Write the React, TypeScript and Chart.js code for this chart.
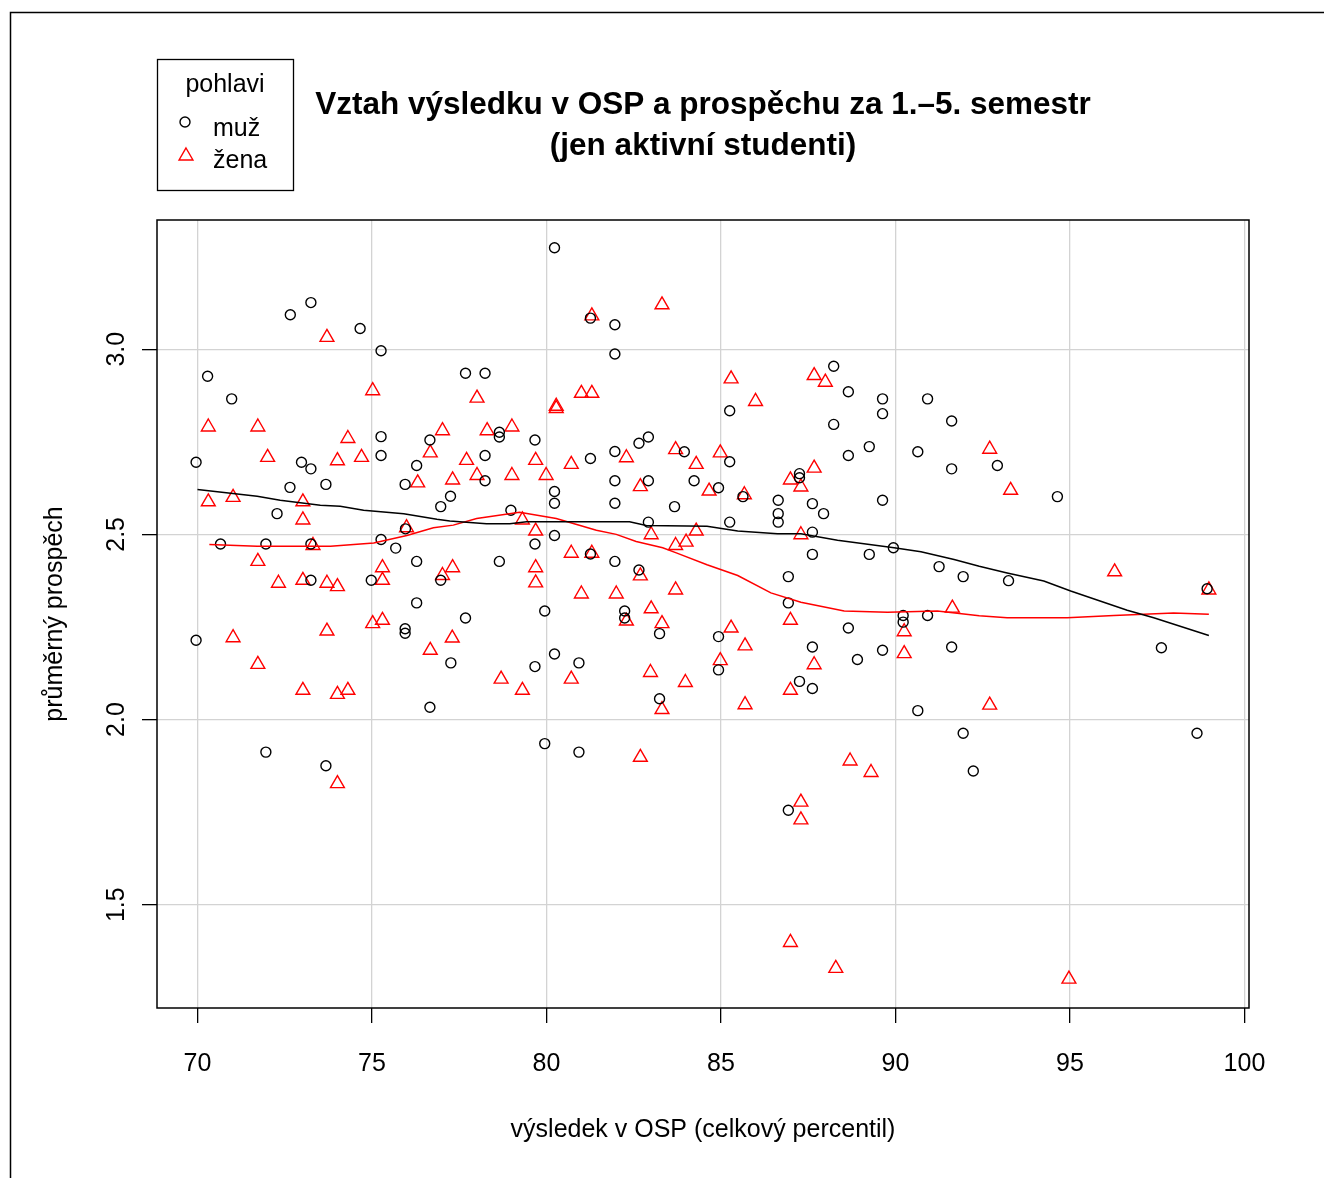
import React, { useEffect, useRef } from 'react';
import { Chart, registerables } from 'chart.js';

Chart.register(...registerables);

const X_TICKS = [70, 75, 80, 85, 90, 95, 100];
const Y_TICKS = [1.5, 2.0, 2.5, 3.0];

const TITLE_LINES = ['Vztah výsledku v OSP a prospěchu za 1.–5. semestr', '(jen aktivní studenti)'];
const X_TITLE = 'výsledek v OSP (celkový percentil)';
const Y_TITLE = 'průměrný prospěch';
const LEGEND_TITLE = 'pohlavi';
const GROUPS = ['muž', 'žena'];

const MALE_X = [
  72.66, 73.25, 74.66, 75.26, 70.29, 70.98, 75.26, 75.26, 69.96, 72.98, 73.25, 76.66, 76.28, 72.65, 73.68, 75.95,
  72.28, 75.96, 70.66, 71.96, 73.25, 75.26, 75.68, 76.28, 73.25, 74.98, 76.28, 69.96, 75.95, 75.95, 76.66, 71.96,
  73.68, 80.23, 81.26, 81.96, 81.96, 77.68, 78.24, 78.65, 78.65, 79.67, 78.24, 81.26, 81.96, 82.65, 82.92, 83.95,
  78.24, 81.96, 82.92, 84.23, 77.25, 76.97, 80.23, 80.23, 81.96, 83.67, 78.98, 82.92, 80.23, 79.67, 78.65, 81.26,
  81.96, 82.65, 76.97, 79.95, 82.24, 77.68, 82.24, 83.24, 77.26, 79.67, 80.23, 80.93, 83.24, 79.95, 80.93, 88.23,
  88.65, 89.63, 89.63, 90.92, 91.61, 85.25, 88.23, 89.25, 88.65, 90.64, 91.61, 85.25, 87.25, 87.25, 84.93, 85.63,
  86.64, 86.64, 86.64, 87.62, 87.94, 89.63, 85.25, 87.62, 87.62, 89.25, 89.94, 91.25, 91.94, 86.93, 86.93, 90.22,
  90.22, 90.92, 84.93, 84.93, 88.65, 87.62, 89.63, 88.91, 91.61, 87.25, 87.62, 90.64, 91.94, 92.23, 86.93, 92.92,
  94.64, 93.24, 98.93, 97.62, 98.64,
];
const MALE_Y = [
  3.093, 3.126, 3.056, 2.996, 2.927, 2.866, 2.764, 2.713, 2.695, 2.695, 2.677, 2.755, 2.686, 2.627, 2.635, 2.635,
  2.556, 2.515, 2.474, 2.474, 2.474, 2.486, 2.463, 2.427, 2.376, 2.376, 2.315, 2.214, 2.245, 2.233, 2.033, 1.912,
  1.875, 3.274, 3.084, 3.066, 2.987, 2.935, 2.935, 2.776, 2.763, 2.755, 2.713, 2.705, 2.724, 2.746, 2.763, 2.723,
  2.645, 2.645, 2.645, 2.645, 2.603, 2.575, 2.616, 2.584, 2.584, 2.575, 2.565, 2.533, 2.497, 2.474, 2.427, 2.447,
  2.427, 2.404, 2.376, 2.293, 2.293, 2.274, 2.274, 2.232, 2.153, 2.143, 2.177, 2.153, 2.056, 1.935, 1.912, 2.954,
  2.885, 2.866, 2.826, 2.866, 2.806, 2.834, 2.797, 2.737, 2.713, 2.723, 2.677, 2.696, 2.664, 2.653, 2.626, 2.602,
  2.592, 2.556, 2.533, 2.583, 2.556, 2.592, 2.533, 2.506, 2.446, 2.446, 2.464, 2.413, 2.386, 2.386, 2.315, 2.281,
  2.263, 2.281, 2.224, 2.134, 2.247, 2.196, 2.187, 2.162, 2.196, 2.103, 2.084, 2.024, 1.963, 1.861, 1.755, 2.686,
  2.602, 2.375, 2.353, 2.194, 1.963,
];

const FEMALE_X = [
  73.71, 75.02, 70.31, 71.73, 74.31, 72.01, 74.01, 74.7, 76.67, 76.31, 70.31, 71.02, 73.02, 73.02, 75.99, 73.31,
  71.73, 75.3, 75.3, 72.32, 73.02, 73.71, 74.01, 71.02, 73.71, 75.02, 75.3, 76.67, 71.73, 73.02, 74.01, 74.31,
  74.01, 81.3, 83.31, 78.01, 81.0, 81.3, 80.28, 80.28, 77.02, 78.3, 79.01, 77.71, 79.69, 80.71, 82.29, 83.7,
  84.29, 77.31, 78.01, 79.01, 79.99, 82.69, 84.66, 79.31, 79.69, 83.0, 84.29, 83.7, 84.0, 80.71, 81.3, 77.02,
  77.31, 79.69, 79.69, 82.69, 81.0, 82.0, 83.7, 83.0, 77.3, 82.29, 83.31, 82.98, 83.98, 78.7, 79.31, 80.71,
  83.31, 82.69, 85.29, 85.99, 87.67, 87.99, 84.98, 87.67, 86.99, 87.29, 85.67, 87.29, 85.29, 85.69, 84.98, 86.99,
  87.67, 86.99, 85.69, 90.25, 90.25, 91.63, 88.7, 89.3, 87.29, 87.29, 86.99, 88.29, 92.7, 92.7, 93.3, 96.28,
  98.98, 94.97,
];
const FEMALE_Y = [
  3.032, 2.888, 2.79, 2.79, 2.759, 2.708, 2.699, 2.708, 2.72, 2.639, 2.588, 2.6, 2.588, 2.539, 2.518, 2.47,
  2.427, 2.41, 2.376, 2.368, 2.376, 2.368, 2.359, 2.221, 2.239, 2.259, 2.268, 2.187, 2.149, 2.079, 2.068, 2.079,
  1.827, 3.09, 3.12, 2.868, 2.881, 2.881, 2.846, 2.84, 2.78, 2.78, 2.79, 2.7, 2.7, 2.689, 2.707, 2.729,
  2.689, 2.647, 2.659, 2.659, 2.659, 2.629, 2.617, 2.539, 2.509, 2.499, 2.509, 2.47, 2.479, 2.449, 2.449, 2.389,
  2.41, 2.41, 2.369, 2.388, 2.339, 2.339, 2.35, 2.299, 2.22, 2.266, 2.259, 2.127, 2.1, 2.109, 2.079, 2.109,
  2.027, 1.898, 2.92, 2.859, 2.929, 2.911, 2.72, 2.679, 2.647, 2.628, 2.607, 2.499, 2.247, 2.199, 2.159, 2.268,
  2.148, 2.079, 2.04, 2.237, 2.178, 2.301, 1.888, 1.857, 1.777, 1.729, 1.398, 1.328, 2.039, 2.73, 2.619, 2.399,
  2.35, 1.299,
];

const MALE_LOESS_X = [
  70.0, 71.71, 72.37, 73.52, 74.09, 74.76, 75.91, 76.86, 77.23, 78.28, 78.95, 79.43, 82.38, 82.86, 84.6, 85.48,
  86.62, 87.29, 88.34, 89.96, 90.73, 91.68, 92.4, 93.2, 94.25, 95.02, 96.64, 97.4, 98.98,
];
const MALE_LOESS_Y = [
  2.621, 2.603, 2.592, 2.579, 2.576, 2.565, 2.556, 2.541, 2.536, 2.529, 2.529, 2.534, 2.534, 2.524, 2.522, 2.509,
  2.502, 2.502, 2.484, 2.464, 2.453, 2.432, 2.414, 2.396, 2.374, 2.347, 2.295, 2.275, 2.227,
];
const FEMALE_LOESS_X = [
  70.34, 71.71, 73.81, 75.05, 76.0, 76.76, 77.33, 78.0, 79.23, 80.28, 81.43, 82.0, 82.57, 83.33, 83.72, 84.6,
  85.48, 86.43, 87.29, 88.53, 89.77, 91.2, 92.4, 93.2, 94.92, 96.26, 97.97, 98.98,
];
const FEMALE_LOESS_Y = [
  2.473, 2.468, 2.468, 2.477, 2.497, 2.518, 2.525, 2.543, 2.56, 2.543, 2.511, 2.5, 2.481, 2.464, 2.45, 2.418,
  2.389, 2.342, 2.317, 2.293, 2.29, 2.293, 2.28, 2.275, 2.275, 2.281, 2.288, 2.284,
];

const FONT = "'Liberation Sans', Arial, Helvetica, sans-serif";
const RED = '#FF0000';
const GRID = '#d3d3d3';

const zip = (xs: number[], ys: number[]) => xs.map((x, i) => ({ x, y: ys[i] }));

function drawTriangle(ctx: CanvasRenderingContext2D, x: number, y: number, r: number) {
  ctx.beginPath();
  let rad = 0;
  ctx.moveTo(x + Math.sin(rad) * r, y - Math.cos(rad) * r);
  rad += (2 * Math.PI) / 3;
  ctx.lineTo(x + Math.sin(rad) * r, y - Math.cos(rad) * r);
  rad += (2 * Math.PI) / 3;
  ctx.lineTo(x + Math.sin(rad) * r, y - Math.cos(rad) * r);
  ctx.closePath();
  ctx.stroke();
}

export default function App() {
  const ref = useRef<HTMLCanvasElement>(null);

  useEffect(() => {
    const canvas = ref.current;
    if (!canvas) return;

    const decorPlugin = {
      id: 'decor',
      beforeDraw(chart: any) {
        const ctx = chart.ctx as CanvasRenderingContext2D;
        ctx.save();
        ctx.fillStyle = '#ffffff';
        ctx.fillRect(0, 0, chart.width, chart.height);
        ctx.strokeStyle = '#000';
        ctx.lineWidth = 1.5;
        ctx.beginPath();
        ctx.moveTo(10.5, chart.height);
        ctx.lineTo(10.5, 12.5);
        ctx.lineTo(chart.width, 12.5);
        ctx.stroke();
        ctx.restore();
      },
      afterDraw(chart: any) {
        const ctx = chart.ctx as CanvasRenderingContext2D;
        const a = chart.chartArea;
        ctx.save();
        ctx.strokeStyle = '#000';
        ctx.lineWidth = 1.5;
        ctx.strokeRect(a.left, a.top, a.right - a.left, a.bottom - a.top);

        // legend box
        ctx.lineWidth = 1.3;
        ctx.strokeRect(157.5, 59.5, 136, 131);
        ctx.fillStyle = '#000';
        ctx.font = `25px ${FONT}`;
        ctx.textBaseline = 'middle';
        ctx.textAlign = 'center';
        ctx.fillText(LEGEND_TITLE, 225, 85);
        ctx.textAlign = 'left';
        ctx.fillText(GROUPS[0], 213, 129);
        ctx.fillText(GROUPS[1], 213, 161);
        ctx.strokeStyle = '#000';
        ctx.lineWidth = 1.4;
        ctx.beginPath();
        ctx.arc(185, 122, 5, 0, Math.PI * 2);
        ctx.stroke();
        ctx.strokeStyle = RED;
        drawTriangle(ctx, 186, 156, 8);
        ctx.restore();
      },
    };

    const tickFont = { family: FONT, size: 25 };

    const chart = new Chart(canvas, {
      type: 'scatter',
      data: {
        datasets: [
          {
            type: 'line',
            label: 'muž loess',
            data: zip(MALE_LOESS_X, MALE_LOESS_Y),
            borderColor: '#000',
            borderWidth: 1.5,
            pointRadius: 0,
            fill: false,
            tension: 0,
          } as any,
          {
            type: 'line',
            label: 'žena loess',
            data: zip(FEMALE_LOESS_X, FEMALE_LOESS_Y),
            borderColor: RED,
            borderWidth: 1.5,
            pointRadius: 0,
            fill: false,
            tension: 0,
          } as any,
          {
            label: GROUPS[0],
            data: zip(MALE_X, MALE_Y),
            pointStyle: 'circle',
            pointRadius: 5,
            borderColor: '#000',
            backgroundColor: 'rgba(0,0,0,0)',
            borderWidth: 1.4,
          },
          {
            label: GROUPS[1],
            data: zip(FEMALE_X, FEMALE_Y),
            pointStyle: 'triangle',
            pointRadius: 8,
            borderColor: RED,
            backgroundColor: 'rgba(0,0,0,0)',
            borderWidth: 1.4,
          },
        ],
      },
      options: {
        responsive: false,
        animation: false,
        devicePixelRatio: 1,
        layout: { padding: { left: 0, right: 75, top: 0, bottom: 0 } },
        plugins: {
          legend: { display: false },
          tooltip: { enabled: false },
          title: {
            display: true,
            text: TITLE_LINES,
            color: '#000',
            fullSize: false,
            font: { family: FONT, size: 31.5, weight: 'bold', lineHeight: '41px' },
            padding: { top: 85, bottom: 53 },
          },
        },
        scales: {
          x: {
            type: 'linear',
            min: 68.84,
            max: 100.13,
            afterBuildTicks: (s: any) => {
              s.ticks = X_TICKS.map((v) => ({ value: v }));
            },
            afterFit: (s: any) => {
              s.height = 170;
            },
            ticks: {
              font: tickFont,
              color: '#000',
              padding: 26,
              autoSkip: false,
              maxRotation: 0,
              minRotation: 0,
              callback: (v: any) => String(v),
            },
            grid: { color: GRID, lineWidth: 1.3, tickColor: '#000', tickLength: 15, tickWidth: 1.3 },
            border: { display: false },
            title: {
              display: true,
              text: X_TITLE,
              color: '#000',
              font: { family: FONT, size: 25 },
              padding: { top: 0, bottom: 33 },
            },
          },
          y: {
            type: 'linear',
            min: 1.221,
            max: 3.349,
            afterBuildTicks: (s: any) => {
              s.ticks = Y_TICKS.map((v) => ({ value: v }));
            },
            afterFit: (s: any) => {
              s.width = 157;
            },
            ticks: {
              font: tickFont,
              color: '#000',
              padding: 8,
              minRotation: 90,
              maxRotation: 90,
              crossAlign: 'center',
              autoSkip: false,
              callback: (v: any) => Number(v).toFixed(1),
            },
            grid: { color: GRID, lineWidth: 1.3, tickColor: '#000', tickLength: 15, tickWidth: 1.3 },
            border: { display: false },
            title: {
              display: true,
              text: Y_TITLE,
              color: '#000',
              font: { family: FONT, size: 25 },
              padding: { top: 40, bottom: 0 },
            },
          },
        },
      } as any,
      plugins: [decorPlugin],
    });

    return () => chart.destroy();
  }, []);

  return (
    <div style={{ position: 'absolute', left: 0, top: 0, width: 1324, height: 1178, overflow: 'hidden' }}>
      <canvas ref={ref} width={1324} height={1178} style={{ display: 'block', width: 1324, height: 1178 }} />
    </div>
  );
}
